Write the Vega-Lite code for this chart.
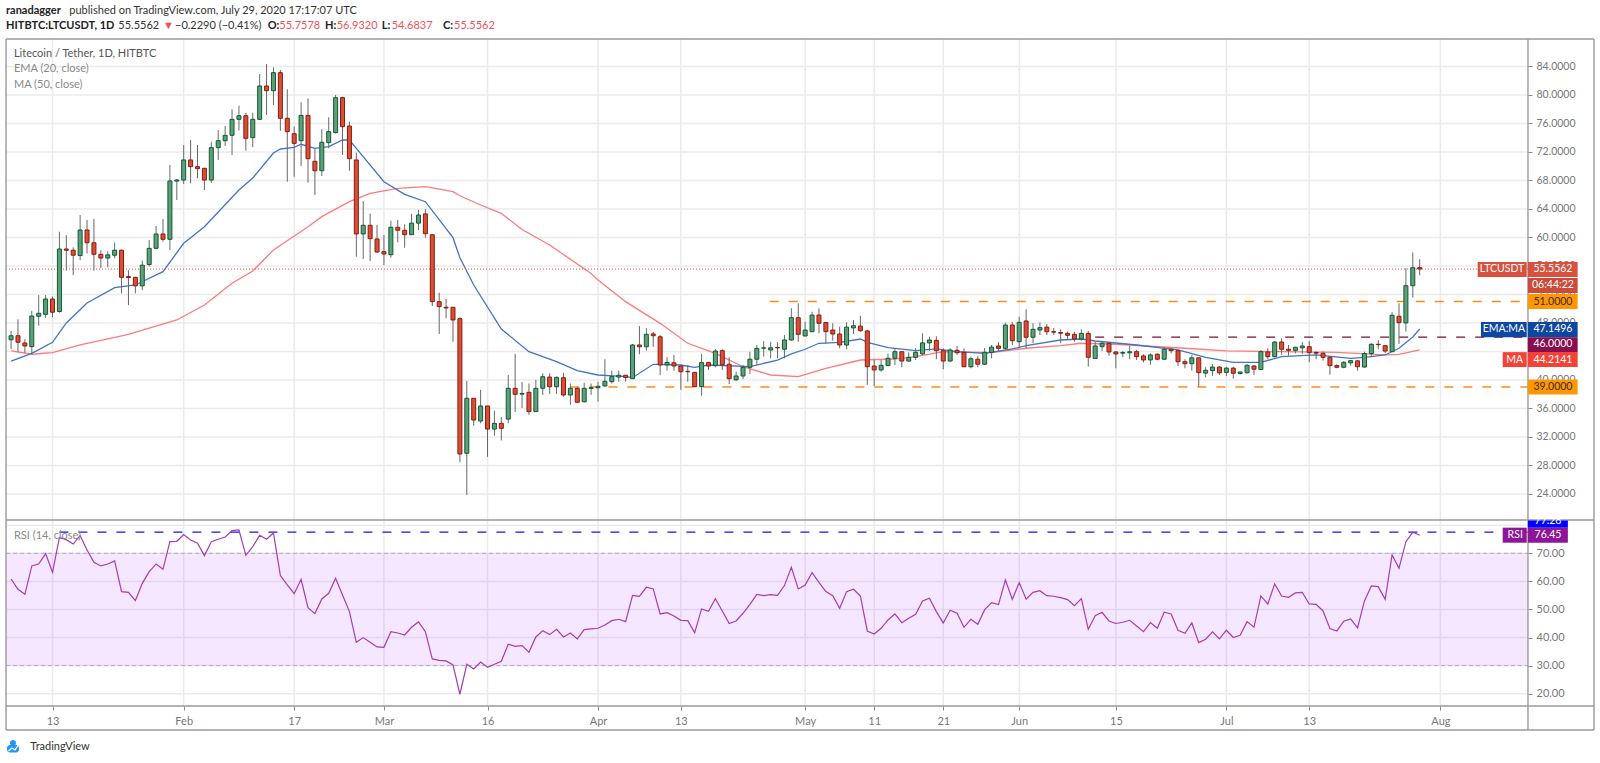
{
"$schema":"https://vega.github.io/schema/vega-lite/v6.json",
"autosize":{"type":"fit","contains":"padding"},
"padding":0,
"width":1600,
"height":763,
"background":"#ffffff",
"config":{"font":"Lato","view":{"stroke":null},"axis":{"grid":false,"domain":false}},
"datasets":{
"bars":[
{"date":"2020-01-07","open":45.64,"high":46.86,"low":44.34,"close":46.2,"rsi":60.86},
{"date":"2020-01-08","open":46.2,"high":48.5,"low":43.96,"close":45.28,"rsi":57.18},
{"date":"2020-01-09","open":45.18,"high":45.7,"low":43.8,"close":44.76,"rsi":55.4},
{"date":"2020-01-10","open":44.66,"high":49.7,"low":43.65,"close":48.96,"rsi":65.49},
{"date":"2020-01-11","open":48.93,"high":51.9,"low":47.6,"close":49.35,"rsi":66.2},
{"date":"2020-01-12","open":49.2,"high":51.9,"low":48.7,"close":51.35,"rsi":69.88},
{"date":"2020-01-13","open":51.35,"high":51.7,"low":48.8,"close":49.5,"rsi":63.23},
{"date":"2020-01-14","open":49.6,"high":60.8,"low":49.43,"close":58.37,"rsi":75.58},
{"date":"2020-01-15","open":58.37,"high":60.3,"low":55.33,"close":58.2,"rsi":74.87},
{"date":"2020-01-16","open":58.2,"high":58.6,"low":54.7,"close":57.5,"rsi":73.3},
{"date":"2020-01-17","open":57.45,"high":63.14,"low":56.8,"close":61.04,"rsi":76.3},
{"date":"2020-01-18","open":61.04,"high":62.45,"low":57.75,"close":59.25,"rsi":71.2},
{"date":"2020-01-19","open":59.25,"high":62.6,"low":55.33,"close":57.63,"rsi":66.8},
{"date":"2020-01-20","open":57.63,"high":58.2,"low":55.7,"close":57.1,"rsi":65.5},
{"date":"2020-01-21","open":57.1,"high":58.05,"low":55.8,"close":57.55,"rsi":66.2},
{"date":"2020-01-22","open":57.5,"high":59.3,"low":57.05,"close":58.2,"rsi":67.27},
{"date":"2020-01-23","open":58.2,"high":58.3,"low":52.15,"close":54.4,"rsi":56.35},
{"date":"2020-01-24","open":54.5,"high":55.4,"low":50.5,"close":54.35,"rsi":56.1},
{"date":"2020-01-25","open":54.4,"high":54.4,"low":52.15,"close":53.2,"rsi":53.15},
{"date":"2020-01-26","open":53.2,"high":56.75,"low":52.6,"close":56.1,"rsi":59.3},
{"date":"2020-01-27","open":56.2,"high":59.65,"low":55.9,"close":58.47,"rsi":63.47},
{"date":"2020-01-28","open":58.47,"high":61.6,"low":58.3,"close":60.48,"rsi":66.2},
{"date":"2020-01-29","open":60.48,"high":62.6,"low":59.4,"close":59.73,"rsi":64.3},
{"date":"2020-01-30","open":59.73,"high":70.16,"low":58.23,"close":67.92,"rsi":74.15},
{"date":"2020-01-31","open":67.9,"high":68.2,"low":65.25,"close":68.05,"rsi":74.27},
{"date":"2020-02-01","open":68.05,"high":72.97,"low":67.5,"close":70.87,"rsi":76.65},
{"date":"2020-02-02","open":70.87,"high":73.67,"low":67.6,"close":69.93,"rsi":74.75},
{"date":"2020-02-03","open":69.93,"high":72.97,"low":68.3,"close":69.65,"rsi":73.56},
{"date":"2020-02-04","open":69.7,"high":69.75,"low":66.65,"close":68.05,"rsi":69.17},
{"date":"2020-02-05","open":68.05,"high":73.43,"low":67.68,"close":72.6,"rsi":74.15},
{"date":"2020-02-06","open":72.6,"high":75.07,"low":70.87,"close":73.57,"rsi":74.99},
{"date":"2020-02-07","open":73.57,"high":75.63,"low":72.83,"close":74.33,"rsi":75.8},
{"date":"2020-02-08","open":74.33,"high":77.98,"low":71.57,"close":76.57,"rsi":78.07},
{"date":"2020-02-09","open":76.57,"high":78.48,"low":75,"close":77.08,"rsi":78.3},
{"date":"2020-02-10","open":77.08,"high":77.5,"low":72.17,"close":73.9,"rsi":69.29},
{"date":"2020-02-11","open":74,"high":77.5,"low":72.64,"close":76.57,"rsi":72.37},
{"date":"2020-02-12","open":76.57,"high":82.93,"low":76.48,"close":81.25,"rsi":76.4},
{"date":"2020-02-13","open":81.25,"high":84.34,"low":77.18,"close":80.59,"rsi":75},
{"date":"2020-02-14","open":80.59,"high":83.87,"low":78.58,"close":83.12,"rsi":77.24},
{"date":"2020-02-15","open":83.12,"high":83.5,"low":74.98,"close":76.72,"rsi":62.05},
{"date":"2020-02-16","open":76.72,"high":80.79,"low":67.82,"close":74.84,"rsi":58.72},
{"date":"2020-02-17","open":74.56,"high":75.54,"low":68.52,"close":73.2,"rsi":55.63},
{"date":"2020-02-18","open":73.57,"high":78.96,"low":70.02,"close":77.12,"rsi":60.74},
{"date":"2020-02-19","open":77.12,"high":79.52,"low":67.68,"close":71.05,"rsi":50.65},
{"date":"2020-02-20","open":70.68,"high":72.5,"low":65.95,"close":69.36,"rsi":48.52},
{"date":"2020-02-21","open":69.36,"high":75.17,"low":68.62,"close":73.35,"rsi":53.74},
{"date":"2020-02-22","open":73.3,"high":76.86,"low":72.5,"close":74.84,"rsi":55.76},
{"date":"2020-02-23","open":74.7,"high":80,"low":74.6,"close":79.61,"rsi":61.1},
{"date":"2020-02-24","open":79.61,"high":79.75,"low":71.57,"close":75.54,"rsi":55.16},
{"date":"2020-02-25","open":75.63,"high":76.24,"low":69.36,"close":71.05,"rsi":49.23},
{"date":"2020-02-26","open":70.87,"high":71.9,"low":57.29,"close":60.48,"rsi":38.31},
{"date":"2020-02-27","open":60.48,"high":65.1,"low":56.97,"close":61.7,"rsi":39.97},
{"date":"2020-02-28","open":61.7,"high":63.33,"low":56.67,"close":59.82,"rsi":38.3},
{"date":"2020-02-29","open":59.78,"high":61.74,"low":57.86,"close":57.95,"rsi":36.65},
{"date":"2020-03-01","open":58,"high":60.34,"low":56.1,"close":57.67,"rsi":36.53},
{"date":"2020-03-02","open":57.57,"high":62.34,"low":57.15,"close":61.42,"rsi":42.1},
{"date":"2020-03-03","open":61.42,"high":62.44,"low":59.31,"close":61,"rsi":41.63},
{"date":"2020-03-04","open":61,"high":61.84,"low":58.55,"close":60.38,"rsi":40.9},
{"date":"2020-03-05","open":60.38,"high":63.3,"low":60.35,"close":62,"rsi":43.65},
{"date":"2020-03-06","open":62,"high":63.85,"low":61.04,"close":63.14,"rsi":45.55},
{"date":"2020-03-07","open":63.3,"high":63.98,"low":59.96,"close":60.52,"rsi":42.1},
{"date":"2020-03-08","open":60.38,"high":60.38,"low":50.37,"close":50.98,"rsi":32.37},
{"date":"2020-03-09","open":50.98,"high":52.24,"low":46.44,"close":50.28,"rsi":31.9},
{"date":"2020-03-10","open":50.2,"high":51.36,"low":48.65,"close":50.1,"rsi":31.66},
{"date":"2020-03-11","open":50.2,"high":50.2,"low":45.36,"close":48.41,"rsi":30.24},
{"date":"2020-03-12","open":48.59,"high":48.79,"low":28.44,"close":29.6,"rsi":19.8},
{"date":"2020-03-13","open":29.7,"high":39.85,"low":23.85,"close":37.42,"rsi":30.48},
{"date":"2020-03-14","open":37.42,"high":37.45,"low":33.57,"close":34.37,"rsi":28.8},
{"date":"2020-03-15","open":34.23,"high":38.6,"low":33.9,"close":36.34,"rsi":31.3},
{"date":"2020-03-16","open":36.34,"high":36.34,"low":29.2,"close":33.1,"rsi":29.4},
{"date":"2020-03-17","open":33.1,"high":35.7,"low":32.17,"close":33.9,"rsi":30.5},
{"date":"2020-03-18","open":33.9,"high":34.8,"low":31.5,"close":33.2,"rsi":31.54},
{"date":"2020-03-19","open":34.5,"high":40.69,"low":33.9,"close":38.82,"rsi":37.6},
{"date":"2020-03-20","open":38.82,"high":43.64,"low":35.5,"close":37.98,"rsi":36.88},
{"date":"2020-03-21","open":38,"high":39.7,"low":36.05,"close":38.1,"rsi":37.1},
{"date":"2020-03-22","open":38.26,"high":39.5,"low":35.1,"close":35.55,"rsi":34.75},
{"date":"2020-03-23","open":35.55,"high":40,"low":35.5,"close":38.82,"rsi":40.2},
{"date":"2020-03-24","open":38.82,"high":40.93,"low":37.88,"close":40.45,"rsi":42.46},
{"date":"2020-03-25","open":40.4,"high":40.93,"low":38.03,"close":39.04,"rsi":41.04},
{"date":"2020-03-26","open":39.04,"high":40.45,"low":38.03,"close":40.36,"rsi":42.94},
{"date":"2020-03-27","open":40.3,"high":41,"low":37.65,"close":37.88,"rsi":40.2},
{"date":"2020-03-28","open":37.88,"high":39.5,"low":36.5,"close":38.82,"rsi":41.63},
{"date":"2020-03-29","open":38.82,"high":38.96,"low":36.8,"close":36.86,"rsi":39.5},
{"date":"2020-03-30","open":36.93,"high":39.6,"low":36.85,"close":38.82,"rsi":42.82},
{"date":"2020-03-31","open":38.8,"high":39.5,"low":37.9,"close":38.9,"rsi":43.06},
{"date":"2020-04-01","open":38.9,"high":39.75,"low":36.95,"close":39.1,"rsi":43.3},
{"date":"2020-04-02","open":39.15,"high":42.9,"low":39.05,"close":39.8,"rsi":44.48},
{"date":"2020-04-03","open":39.75,"high":41.3,"low":39.5,"close":40.45,"rsi":46},
{"date":"2020-04-04","open":40.4,"high":41.3,"low":39.75,"close":40.65,"rsi":46.5},
{"date":"2020-04-05","open":40.65,"high":40.7,"low":39.75,"close":40.33,"rsi":45.67},
{"date":"2020-04-06","open":40.17,"high":45.05,"low":40.15,"close":44.9,"rsi":55.04},
{"date":"2020-04-07","open":44.9,"high":47.55,"low":43.6,"close":44.65,"rsi":54.7},
{"date":"2020-04-08","open":44.65,"high":47.25,"low":44.1,"close":46.4,"rsi":57.9},
{"date":"2020-04-09","open":46.45,"high":46.75,"low":44.65,"close":46.2,"rsi":57.3},
{"date":"2020-04-10","open":46.05,"high":46.3,"low":40.7,"close":42.1,"rsi":48.4},
{"date":"2020-04-11","open":42.1,"high":43.2,"low":41.3,"close":42.45,"rsi":48.87},
{"date":"2020-04-12","open":42.4,"high":43.5,"low":41.3,"close":41.95,"rsi":47.7},
{"date":"2020-04-13","open":41.95,"high":42.1,"low":38.6,"close":41.15,"rsi":46.14},
{"date":"2020-04-14","open":41.2,"high":42.1,"low":39.75,"close":41.15,"rsi":46},
{"date":"2020-04-15","open":41.05,"high":41.1,"low":38.96,"close":39.05,"rsi":41.75},
{"date":"2020-04-16","open":39.05,"high":43.64,"low":37.78,"close":42.42,"rsi":50.18},
{"date":"2020-04-17","open":42.42,"high":42.55,"low":41.4,"close":41.95,"rsi":49.35},
{"date":"2020-04-18","open":42,"high":44.33,"low":41.77,"close":44.05,"rsi":53.86},
{"date":"2020-04-19","open":44.1,"high":44.3,"low":41.4,"close":42.1,"rsi":49.47},
{"date":"2020-04-20","open":42.2,"high":43.2,"low":39.42,"close":40.17,"rsi":44.96},
{"date":"2020-04-21","open":40,"high":41.15,"low":39.9,"close":40.55,"rsi":45.9},
{"date":"2020-04-22","open":40.55,"high":42.1,"low":40.1,"close":41.77,"rsi":48.64},
{"date":"2020-04-23","open":41.77,"high":43.95,"low":40.83,"close":42.9,"rsi":51.84},
{"date":"2020-04-24","open":42.9,"high":44.9,"low":42.1,"close":44.43,"rsi":55.4},
{"date":"2020-04-25","open":44.45,"high":45.45,"low":43.26,"close":44.5,"rsi":54.93},
{"date":"2020-04-26","open":44.2,"high":45.35,"low":43.03,"close":44.5,"rsi":55.3},
{"date":"2020-04-27","open":44.55,"high":45.3,"low":43.03,"close":44.5,"rsi":55.04},
{"date":"2020-04-28","open":44.3,"high":46.3,"low":43.03,"close":45.6,"rsi":58.5},
{"date":"2020-04-29","open":45.6,"high":50.05,"low":45.5,"close":48.73,"rsi":65},
{"date":"2020-04-30","open":48.73,"high":50.75,"low":45.36,"close":46.4,"rsi":57.3},
{"date":"2020-05-01","open":46.16,"high":48.17,"low":46.16,"close":47,"rsi":58.72},
{"date":"2020-05-02","open":46.77,"high":49.57,"low":46.77,"close":49.1,"rsi":63.1},
{"date":"2020-05-03","open":49.1,"high":50.05,"low":46.55,"close":47.95,"rsi":59.67},
{"date":"2020-05-04","open":48.05,"high":48.1,"low":45.05,"close":46.77,"rsi":56.35},
{"date":"2020-05-05","open":47,"high":47.95,"low":45.5,"close":46.44,"rsi":54.93},
{"date":"2020-05-06","open":46.44,"high":47.47,"low":44.43,"close":44.9,"rsi":50.4},
{"date":"2020-05-07","open":44.9,"high":48.1,"low":44.3,"close":47.4,"rsi":56.35},
{"date":"2020-05-08","open":47.3,"high":48.4,"low":46.44,"close":47.6,"rsi":57.18},
{"date":"2020-05-09","open":47.55,"high":49,"low":46.77,"close":46.9,"rsi":54.8},
{"date":"2020-05-10","open":46.87,"high":47,"low":39.3,"close":41.85,"rsi":42.34},
{"date":"2020-05-11","open":41.95,"high":42.8,"low":39.15,"close":41.4,"rsi":41.28},
{"date":"2020-05-12","open":41.4,"high":42.8,"low":41.15,"close":42.05,"rsi":43.3},
{"date":"2020-05-13","open":42,"high":43.7,"low":42,"close":43.03,"rsi":46.26},
{"date":"2020-05-14","open":43.03,"high":44.43,"low":42.1,"close":43.96,"rsi":48.4},
{"date":"2020-05-15","open":43.96,"high":44,"low":41.77,"close":42.65,"rsi":45.3},
{"date":"2020-05-16","open":42.65,"high":43.87,"low":42.55,"close":43.17,"rsi":46.85},
{"date":"2020-05-17","open":43.17,"high":44.43,"low":42.8,"close":43.87,"rsi":48.28},
{"date":"2020-05-18","open":43.65,"high":46.54,"low":43.5,"close":45.2,"rsi":53.03},
{"date":"2020-05-19","open":45.2,"high":46.07,"low":44.06,"close":45.6,"rsi":53.98},
{"date":"2020-05-20","open":45.55,"high":46.13,"low":42.9,"close":44.1,"rsi":49.23},
{"date":"2020-05-21","open":44.1,"high":44.43,"low":41.49,"close":42.65,"rsi":45.2},
{"date":"2020-05-22","open":42.65,"high":44.43,"low":42.55,"close":44.2,"rsi":49.7},
{"date":"2020-05-23","open":44.15,"high":44.76,"low":43.5,"close":43.82,"rsi":48.64},
{"date":"2020-05-24","open":43.87,"high":44.43,"low":41.77,"close":41.85,"rsi":43.65},
{"date":"2020-05-25","open":41.85,"high":43.26,"low":41.63,"close":42.97,"rsi":46.5},
{"date":"2020-05-26","open":42.9,"high":43.36,"low":41.77,"close":42.2,"rsi":44.72},
{"date":"2020-05-27","open":42.2,"high":44.48,"low":42.1,"close":43.87,"rsi":49.94},
{"date":"2020-05-28","open":43.87,"high":44.9,"low":43.03,"close":44.6,"rsi":52.43},
{"date":"2020-05-29","open":44.76,"high":45.3,"low":44,"close":44.43,"rsi":51.72},
{"date":"2020-05-30","open":44.43,"high":48.03,"low":44.2,"close":47.7,"rsi":60.5},
{"date":"2020-05-31","open":47.7,"high":48.1,"low":44.9,"close":45.5,"rsi":53.62},
{"date":"2020-06-01","open":45.36,"high":48.87,"low":44.43,"close":48.08,"rsi":59.55},
{"date":"2020-06-02","open":48.27,"high":49.91,"low":44.43,"close":45.98,"rsi":53.62},
{"date":"2020-06-03","open":45.98,"high":47.95,"low":45.14,"close":47.1,"rsi":56.1},
{"date":"2020-06-04","open":47,"high":48.08,"low":46.3,"close":47.33,"rsi":56.7},
{"date":"2020-06-05","open":47.4,"high":47.85,"low":46.3,"close":46.77,"rsi":54.93},
{"date":"2020-06-06","open":46.77,"high":47.3,"low":46.3,"close":46.7,"rsi":54.7},
{"date":"2020-06-07","open":46.65,"high":47.1,"low":45.14,"close":46.55,"rsi":54.2},
{"date":"2020-06-08","open":46.53,"high":46.77,"low":45.6,"close":46.26,"rsi":53.5},
{"date":"2020-06-09","open":46.4,"high":46.77,"low":45.36,"close":45.75,"rsi":51.36},
{"date":"2020-06-10","open":45.75,"high":47.1,"low":45.5,"close":46.53,"rsi":53.86},
{"date":"2020-06-11","open":46.53,"high":46.87,"low":41.85,"close":43.17,"rsi":42.94},
{"date":"2020-06-12","open":43,"high":45.36,"low":42.97,"close":44.76,"rsi":47.8},
{"date":"2020-06-13","open":44.66,"high":45.36,"low":44.06,"close":45.14,"rsi":49},
{"date":"2020-06-14","open":45.14,"high":45.22,"low":43.4,"close":43.92,"rsi":45.9},
{"date":"2020-06-15","open":43.92,"high":44.06,"low":41.63,"close":43.64,"rsi":45},
{"date":"2020-06-16","open":43.75,"high":44.06,"low":43.17,"close":43.85,"rsi":45.43},
{"date":"2020-06-17","open":43.8,"high":44.76,"low":42.9,"close":43.95,"rsi":46.14},
{"date":"2020-06-18","open":43.96,"high":44.2,"low":42.8,"close":43.26,"rsi":44.13},
{"date":"2020-06-19","open":43.36,"high":43.6,"low":42.47,"close":42.8,"rsi":42.1},
{"date":"2020-06-20","open":42.8,"high":43.73,"low":42.1,"close":43.5,"rsi":45.3},
{"date":"2020-06-21","open":43.6,"high":43.73,"low":42.8,"close":42.9,"rsi":43.3},
{"date":"2020-06-22","open":42.9,"high":44.6,"low":42.8,"close":44.3,"rsi":49},
{"date":"2020-06-23","open":44.3,"high":44.43,"low":43.73,"close":44.1,"rsi":48.4},
{"date":"2020-06-24","open":44.1,"high":44.2,"low":41.96,"close":42.55,"rsi":42.6},
{"date":"2020-06-25","open":42.55,"high":42.9,"low":41.63,"close":42.27,"rsi":41.5},
{"date":"2020-06-26","open":42.27,"high":43.5,"low":41.3,"close":43.1,"rsi":45.2},
{"date":"2020-06-27","open":43.1,"high":43.1,"low":39.05,"close":41.02,"rsi":38.2},
{"date":"2020-06-28","open":40.95,"high":41.77,"low":40.37,"close":41.35,"rsi":39.4},
{"date":"2020-06-29","open":41.3,"high":42.23,"low":40.55,"close":41.8,"rsi":42},
{"date":"2020-06-30","open":41.8,"high":41.96,"low":40.7,"close":41,"rsi":39.5},
{"date":"2020-07-01","open":41.05,"high":41.85,"low":40.55,"close":41.65,"rsi":42.6},
{"date":"2020-07-02","open":41.65,"high":41.85,"low":40.17,"close":40.93,"rsi":40},
{"date":"2020-07-03","open":40.9,"high":41.2,"low":40.75,"close":41.1,"rsi":40.8},
{"date":"2020-07-04","open":41,"high":42.2,"low":40.9,"close":42.05,"rsi":45.67},
{"date":"2020-07-05","open":41.95,"high":42.1,"low":40.7,"close":41.5,"rsi":43.65},
{"date":"2020-07-06","open":41.45,"high":44.2,"low":41.4,"close":43.96,"rsi":54.8},
{"date":"2020-07-07","open":43.92,"high":44.43,"low":42.9,"close":43.26,"rsi":51.96},
{"date":"2020-07-08","open":43.26,"high":45.45,"low":43.17,"close":45.32,"rsi":59.1},
{"date":"2020-07-09","open":45.32,"high":45.85,"low":43.5,"close":44.3,"rsi":54.8},
{"date":"2020-07-10","open":44.3,"high":44.9,"low":43.4,"close":44.15,"rsi":54.33},
{"date":"2020-07-11","open":44.15,"high":44.66,"low":43.73,"close":44.57,"rsi":55.88},
{"date":"2020-07-12","open":44.5,"high":45.3,"low":43.64,"close":44.76,"rsi":56.1},
{"date":"2020-07-13","open":44.66,"high":45.45,"low":42.47,"close":43.82,"rsi":51.96},
{"date":"2020-07-14","open":43.85,"high":44,"low":42.9,"close":43.75,"rsi":51.84},
{"date":"2020-07-15","open":43.73,"high":44,"low":42.7,"close":43.17,"rsi":49.47},
{"date":"2020-07-16","open":43.17,"high":43.26,"low":40.73,"close":42,"rsi":43.18},
{"date":"2020-07-17","open":42,"high":42.2,"low":41.63,"close":41.77,"rsi":42.34},
{"date":"2020-07-18","open":41.77,"high":42.65,"low":41.63,"close":42.47,"rsi":45.8},
{"date":"2020-07-19","open":42.4,"high":42.8,"low":42,"close":42.7,"rsi":46.62},
{"date":"2020-07-20","open":42.67,"high":42.8,"low":41.3,"close":41.85,"rsi":43.41},
{"date":"2020-07-21","open":41.8,"high":43.96,"low":41.77,"close":43.7,"rsi":53.03},
{"date":"2020-07-22","open":43.7,"high":45.14,"low":43.17,"close":45,"rsi":58.37},
{"date":"2020-07-23","open":45,"high":45.6,"low":44.3,"close":44.95,"rsi":58.13},
{"date":"2020-07-24","open":44.8,"high":44.85,"low":43.75,"close":44.05,"rsi":53.62},
{"date":"2020-07-25","open":43.96,"high":49.5,"low":43.92,"close":49.07,"rsi":69.4},
{"date":"2020-07-26","open":48.93,"high":50.75,"low":45.05,"close":48.03,"rsi":64.66},
{"date":"2020-07-27","open":48,"high":55.7,"low":46.77,"close":53.22,"rsi":74.15},
{"date":"2020-07-28","open":53.22,"high":57.9,"low":51.55,"close":55.75,"rsi":77.48},
{"date":"2020-07-29","open":55.7578,"high":56.932,"low":54.6837,"close":55.5562,"rsi":76.45}
],
"ema":[
{"date":"2020-01-07","price":42.65},{"date":"2020-01-10","price":43.73},{"date":"2020-01-13","price":45.28},{"date":"2020-01-15","price":47.99},{"date":"2020-01-18","price":50.79},{"date":"2020-01-22","price":52.94},{"date":"2020-01-25","price":53.32},{"date":"2020-01-29","price":55.19},{"date":"2020-02-01","price":59.17},{"date":"2020-02-04","price":61.5},{"date":"2020-02-09","price":66.65},{"date":"2020-02-11","price":68.34},{"date":"2020-02-14","price":71.85},{"date":"2020-02-15","price":72.41},{"date":"2020-02-17","price":72.65},{"date":"2020-02-18","price":73.07},{"date":"2020-02-20","price":72.5},{"date":"2020-02-22","price":72.73},{"date":"2020-02-24","price":73.67},{"date":"2020-02-25","price":73.67},{"date":"2020-02-26","price":72.5},{"date":"2020-03-01","price":67.82},{"date":"2020-03-04","price":66.05},{"date":"2020-03-07","price":65.01},{"date":"2020-03-11","price":59.96},{"date":"2020-03-12","price":57.15},{"date":"2020-03-14","price":53.32},{"date":"2020-03-18","price":47.14},{"date":"2020-03-22","price":43.96},{"date":"2020-03-26","price":42.55},{"date":"2020-03-29","price":41.29},{"date":"2020-04-01","price":40.69},{"date":"2020-04-05","price":40.45},{"date":"2020-04-06","price":40.31},{"date":"2020-04-09","price":42.19},{"date":"2020-04-13","price":42.09},{"date":"2020-04-15","price":41.77},{"date":"2020-04-17","price":42.09},{"date":"2020-04-23","price":41.85},{"date":"2020-04-27","price":42.79},{"date":"2020-04-29","price":43.64},{"date":"2020-05-01","price":44.3},{"date":"2020-05-03","price":45.14},{"date":"2020-05-06","price":45.28},{"date":"2020-05-09","price":45.74},{"date":"2020-05-10","price":45.28},{"date":"2020-05-13","price":44.52},{"date":"2020-05-17","price":44.1},{"date":"2020-05-20","price":44.34},{"date":"2020-05-23","price":43.96},{"date":"2020-05-27","price":43.73},{"date":"2020-05-31","price":44.34},{"date":"2020-06-02","price":44.8},{"date":"2020-06-07","price":45.6},{"date":"2020-06-10","price":45.74},{"date":"2020-06-12","price":45.46},{"date":"2020-06-18","price":44.9},{"date":"2020-06-24","price":44.2},{"date":"2020-06-28","price":43.17},{"date":"2020-07-02","price":42.47},{"date":"2020-07-06","price":42.47},{"date":"2020-07-09","price":43.26},{"date":"2020-07-14","price":43.5},{"date":"2020-07-19","price":43.03},{"date":"2020-07-21","price":43.17},{"date":"2020-07-24","price":43.5},{"date":"2020-07-26","price":44.44},{"date":"2020-07-28","price":46.02},{"date":"2020-07-29","price":47.15}
],
"ma":[
{"date":"2020-01-07","price":44.06},{"date":"2020-01-10","price":43.6},{"date":"2020-01-13","price":43.82},{"date":"2020-01-17","price":44.9},{"date":"2020-01-24","price":46.4},{"date":"2020-01-31","price":48.41},{"date":"2020-02-04","price":50.51},{"date":"2020-02-08","price":53.56},{"date":"2020-02-11","price":55.28},{"date":"2020-02-14","price":58.23},{"date":"2020-02-19","price":61.5},{"date":"2020-02-21","price":62.91},{"date":"2020-02-25","price":65.01},{"date":"2020-02-28","price":66.19},{"date":"2020-03-03","price":66.89},{"date":"2020-03-07","price":67.12},{"date":"2020-03-11","price":66.41},{"date":"2020-03-12","price":65.85},{"date":"2020-03-15","price":64.55},{"date":"2020-03-18","price":63.38},{"date":"2020-03-21","price":61.1},{"date":"2020-03-25","price":58.93},{"date":"2020-03-31","price":54.93},{"date":"2020-04-01","price":54.02},{"date":"2020-04-05","price":50.98},{"date":"2020-04-10","price":47.94},{"date":"2020-04-14","price":45.14},{"date":"2020-04-18","price":43.73},{"date":"2020-04-22","price":41.85},{"date":"2020-04-26","price":40.69},{"date":"2020-04-30","price":40.45},{"date":"2020-05-04","price":41.63},{"date":"2020-05-09","price":42.79},{"date":"2020-05-14","price":42.93},{"date":"2020-05-17","price":43.26},{"date":"2020-05-21","price":43.96},{"date":"2020-05-28","price":43.82},{"date":"2020-06-02","price":44.44},{"date":"2020-06-07","price":44.8},{"date":"2020-06-10","price":45.14},{"date":"2020-06-15","price":45},{"date":"2020-06-25","price":44.44},{"date":"2020-07-01","price":44.06},{"date":"2020-07-09","price":43.96},{"date":"2020-07-17","price":43.87},{"date":"2020-07-24","price":43.5},{"date":"2020-07-26","price":43.59},{"date":"2020-07-29","price":44.21}
],
"timeTicks":[
{"date":"2020-01-13"},{"date":"2020-02-01"},{"date":"2020-02-17"},{"date":"2020-03-01"},{"date":"2020-03-16"},{"date":"2020-04-01"},{"date":"2020-04-13"},{"date":"2020-05-01"},{"date":"2020-05-11"},{"date":"2020-05-21"},{"date":"2020-06-01"},{"date":"2020-06-15"},{"date":"2020-07-01"},{"date":"2020-07-13"},{"date":"2020-08-01"}
],
"rsiLines":[
{"kind":"grid","rsi":20},{"kind":"grid","rsi":30},{"kind":"grid","rsi":40},{"kind":"grid","rsi":50},{"kind":"grid","rsi":60},{"kind":"grid","rsi":70},{"kind":"grid","rsi":80}
],
"priceGrid":[
{"price":24},{"price":28},{"price":32},{"price":36},{"price":40},{"price":44},{"price":48},{"price":52},{"price":56},{"price":60},{"price":64},{"price":68},{"price":72},{"price":76},{"price":80},{"price":84}
],
"levels":[
{"kind":"support","price":51,"start":"2020-04-25T21:00:00Z"},
{"kind":"support","price":39,"start":"2020-03-28T00:00:00Z"},
{"kind":"pivot","price":46,"start":"2020-06-12T00:00:00Z"}
],
"frameH":[
{"price":87.85},{"price":20.34},{"price":-5.77},{"price":-9.14}
],
"frameV":[
{"date":"2020-01-06T06:30:00Z"},{"date":"2020-08-13T16:20:00Z"},{"date":"2020-08-23T05:45:00Z"}
],
"tags":[
{"tag":"last","start":"2020-08-06T09:36:00Z","end":"2020-08-13T12:00:00Z","top":56.55,"bottom":54.44,"mid":"2020-08-09T22:00:00Z","at":55.5,"label":"LTCUSDT"},
{"tag":"last","start":"2020-08-13T16:20:00Z","end":"2020-08-20T21:00:00Z","top":56.55,"bottom":54.44,"mid":"2020-08-17T07:00:00Z","at":55.5,"label":"55.5562"},
{"tag":"timer","start":"2020-08-13T16:20:00Z","end":"2020-08-20T21:00:00Z","top":54.3,"bottom":52.2,"mid":"2020-08-17T07:00:00Z","at":53.25,"label":"06:44:22"},
{"tag":"level","start":"2020-08-13T16:20:00Z","end":"2020-08-20T21:00:00Z","top":52.06,"bottom":49.95,"mid":"2020-08-17T07:00:00Z","at":51,"label":"51.0000"},
{"tag":"ema","start":"2020-08-06T21:00:00Z","end":"2020-08-13T12:00:00Z","top":48.13,"bottom":46,"mid":"2020-08-10T05:00:00Z","at":47.1,"label":"EMA:MA"},
{"tag":"ema","start":"2020-08-13T16:20:00Z","end":"2020-08-20T21:00:00Z","top":48.13,"bottom":46,"mid":"2020-08-17T07:00:00Z","at":47.1,"label":"47.1496"},
{"tag":"pivot","start":"2020-08-13T16:20:00Z","end":"2020-08-20T21:00:00Z","top":46,"bottom":43.9,"mid":"2020-08-17T07:00:00Z","at":45,"label":"46.0000"},
{"tag":"ma","start":"2020-08-10T00:30:00Z","end":"2020-08-13T12:00:00Z","top":43.9,"bottom":41.8,"mid":"2020-08-11T18:00:00Z","at":42.85,"label":"MA"},
{"tag":"ma","start":"2020-08-13T16:20:00Z","end":"2020-08-20T21:00:00Z","top":43.9,"bottom":41.8,"mid":"2020-08-17T07:00:00Z","at":42.85,"label":"44.2141"},
{"tag":"level","start":"2020-08-13T16:20:00Z","end":"2020-08-20T21:00:00Z","top":40.05,"bottom":37.95,"mid":"2020-08-17T07:00:00Z","at":39,"label":"39.0000"},
{"tag":"rsiLevel","start":"2020-08-13T16:20:00Z","end":"2020-08-19T11:00:00Z","top":20.27,"bottom":19.26,"mid":"2020-08-16T14:00:00Z","at":20.2,"label":"77.28"},
{"tag":"rsi","start":"2020-08-10T00:30:00Z","end":"2020-08-13T12:00:00Z","top":19.26,"bottom":17.15,"mid":"2020-08-11T20:00:00Z","at":18.2,"label":"RSI"},
{"tag":"rsi","start":"2020-08-13T16:20:00Z","end":"2020-08-19T11:00:00Z","top":19.26,"bottom":17.15,"mid":"2020-08-16T14:00:00Z","at":18.2,"label":"76.45"}
],
"notes":[
{"label":"ranadagger","date":"2020-01-06T06:30:00Z","price":91.78,"role":"bold"},
{"label":"published on TradingView.com, July 29, 2020 17:17:07 UTC","date":"2020-01-15T10:20:00Z","price":91.78,"role":"ink"},
{"label":"HITBTC:LTCUSDT, 1D","date":"2020-01-06T06:30:00Z","price":89.67,"role":"bold"},
{"label":"55.5562","date":"2020-01-22T12:40:00Z","price":89.67,"role":"ink"},
{"label":"▼","date":"2020-01-29T00:00:00Z","price":89.67,"role":"red"},
{"label":"−0.2290 (−0.41%)","date":"2020-01-30T17:45:00Z","price":89.67,"role":"ink"},
{"label":"O:","date":"2020-02-13T04:00:00Z","price":89.67,"role":"bold"},
{"label":"55.7578","date":"2020-02-14T20:20:00Z","price":89.67,"role":"red"},
{"label":"H:","date":"2020-02-21T11:00:00Z","price":89.67,"role":"bold"},
{"label":"56.9320","date":"2020-02-23T03:50:00Z","price":89.67,"role":"red"},
{"label":"L:","date":"2020-02-29T16:10:00Z","price":89.67,"role":"bold"},
{"label":"54.6837","date":"2020-03-02T03:00:00Z","price":89.67,"role":"red"},
{"label":"C:","date":"2020-03-09T13:15:00Z","price":89.67,"role":"bold"},
{"label":"55.5562","date":"2020-03-11T03:30:00Z","price":89.67,"role":"red"},
{"label":"Litecoin / Tether, 1D, HITBTC","date":"2020-01-07T10:00:00Z","price":85.74,"role":"title"},
{"label":"EMA (20, close)","date":"2020-01-07T10:00:00Z","price":83.59,"role":"muted"},
{"label":"MA (50, close)","date":"2020-01-07T10:00:00Z","price":81.46,"role":"muted"},
{"label":"RSI (14, close)","date":"2020-01-07T10:00:00Z","price":18.13,"role":"muted"},
{"label":"TradingView","date":"2020-01-09T19:00:00Z","price":-11.48,"role":"brand"}
],
"logoCloud":[
{"start":"2020-01-06T09:50:00Z","end":"2020-01-08T03:30:00Z","top":-11.24,"bottom":-12.29},
{"start":"2020-01-06T20:10:00Z","end":"2020-01-07T17:00:00Z","top":-10.54,"bottom":-11.4}
],
"logoLine":[
{"date":"2020-01-06T15:00:00Z","price":-12.08},
{"date":"2020-01-07T03:00:00Z","price":-11.66},
{"date":"2020-01-07T13:40:00Z","price":-11.94},
{"date":"2020-01-08T02:00:00Z","price":-11.24}
]
},
"layer":[
{"layer":[
{"data":{"name":"timeTicks"},"mark":{"type":"rule","color":"#ebebeb","strokeWidth":1.5},
"encoding":{
"x":{"field":"date","type":"temporal","scale":{"domain":[{"year":2020,"month":1,"date":5,"hours":9,"minutes":30,"utc":true},{"year":2020,"month":8,"date":24,"hours":2,"minutes":40,"utc":true}],"nice":false,"padding":0},
"axis":{"title":null,"orient":"bottom","offset":-57,"tickSize":4,"tickColor":"#888888","labelColor":"#777777","labelFontSize":11,"labelPadding":5,"labelFlush":false,"labelOverlap":false,
"values":[{"year":2020,"month":1,"date":13,"utc":true},{"year":2020,"month":2,"date":1,"utc":true},{"year":2020,"month":2,"date":17,"utc":true},{"year":2020,"month":3,"date":1,"utc":true},{"year":2020,"month":3,"date":16,"utc":true},{"year":2020,"month":4,"date":1,"utc":true},{"year":2020,"month":4,"date":13,"utc":true},{"year":2020,"month":5,"date":1,"utc":true},{"year":2020,"month":5,"date":11,"utc":true},{"year":2020,"month":5,"date":21,"utc":true},{"year":2020,"month":6,"date":1,"utc":true},{"year":2020,"month":6,"date":15,"utc":true},{"year":2020,"month":7,"date":1,"utc":true},{"year":2020,"month":7,"date":13,"utc":true},{"year":2020,"month":8,"date":1,"utc":true}],
"labelExpr":"utcFormat(datum.value,'%d')=='01'?utcFormat(datum.value,'%b'):utcFormat(datum.value,'%-d')"}},
"y":{"datum":253.16,"type":"quantitative","scale":{"domain":[-4.68,267.04],"nice":false,"zero":false},
"axis":{"title":null,"orient":"right","offset":-72,"values":[20,30,40,50,60,70],"format":".2f","tickSize":4,"tickColor":"#888888","labelColor":"#777777","labelFontSize":11,"labelPadding":4,"labelOverlap":false}},
"y2":{"datum":15.62}}},
{"data":{"name":"rsiLines"},"mark":{"type":"rule","color":"#ebebeb","strokeWidth":1.5},
"encoding":{
"x":{"datum":{"year":2020,"month":1,"date":6,"hours":6,"minutes":30,"utc":true},"type":"temporal"},
"x2":{"datum":{"year":2020,"month":8,"date":13,"hours":16,"minutes":20,"utc":true}},
"y":{"field":"rsi","type":"quantitative"}}},
{"data":{"values":[{"low":30,"high":70}]},"mark":{"type":"rect","color":"#9915ff","opacity":0.1},
"encoding":{
"x":{"datum":{"year":2020,"month":1,"date":6,"hours":6,"minutes":30,"utc":true},"type":"temporal"},
"x2":{"datum":{"year":2020,"month":8,"date":13,"hours":16,"minutes":20,"utc":true}},
"y":{"field":"low","type":"quantitative"},
"y2":{"field":"high"}}},
{"data":{"values":[{"rsi":30},{"rsi":70}]},"mark":{"type":"rule","color":"#b9a6c4","strokeWidth":1,"strokeDash":[4,3]},
"encoding":{
"x":{"datum":{"year":2020,"month":1,"date":6,"hours":6,"minutes":30,"utc":true},"type":"temporal"},
"x2":{"datum":{"year":2020,"month":8,"date":13,"hours":16,"minutes":20,"utc":true}},
"y":{"field":"rsi","type":"quantitative"}}},
{"data":{"values":[{"rsi":77.55}]},"mark":{"type":"rule","color":"#1414f0","strokeWidth":1.4,"strokeDash":[9,10]},
"encoding":{
"x":{"datum":{"year":2020,"month":1,"date":14,"hours":0,"utc":true},"type":"temporal"},
"x2":{"datum":{"year":2020,"month":8,"date":13,"hours":16,"minutes":20,"utc":true}},
"y":{"field":"rsi","type":"quantitative"}}},
{"data":{"name":"bars"},"mark":{"type":"line","color":"#a43cb8","strokeWidth":1.2},
"encoding":{
"x":{"field":"date","type":"temporal"},
"y":{"field":"rsi","type":"quantitative"}}}
]},
{"layer":[
{"data":{"name":"priceGrid"},"mark":{"type":"rule","color":"#ebebeb","strokeWidth":1.5},
"encoding":{
"x":{"datum":{"year":2020,"month":1,"date":6,"hours":6,"minutes":30,"utc":true},"type":"temporal"},
"x2":{"datum":{"year":2020,"month":8,"date":13,"hours":16,"minutes":20,"utc":true}},
"y":{"field":"price","type":"quantitative","scale":{"domain":[-13.77,93.32],"nice":false,"zero":false},
"axis":{"title":null,"orient":"right","offset":-72,"values":[24,28,32,36,40,44,48,52,56,60,64,68,72,76,80,84],"format":".4f","tickSize":4,"tickColor":"#888888","labelColor":"#777777","labelFontSize":10.5,"labelPadding":4,"labelOverlap":false}}}},
{"data":{"name":"ma"},"mark":{"type":"line","color":"#ff7b7b","strokeWidth":1.3},
"encoding":{"x":{"field":"date","type":"temporal"},"y":{"field":"price","type":"quantitative"}}},
{"data":{"name":"ema"},"mark":{"type":"line","color":"#4174c8","strokeWidth":1.3},
"encoding":{"x":{"field":"date","type":"temporal"},"y":{"field":"price","type":"quantitative"}}},
{"data":{"values":[{"price":55.5562}]},"mark":{"type":"rule","color":"#e8453c","strokeWidth":1,"strokeDash":[1,2]},
"encoding":{
"x":{"datum":{"year":2020,"month":1,"date":6,"hours":6,"minutes":30,"utc":true},"type":"temporal"},
"x2":{"datum":{"year":2020,"month":8,"date":13,"hours":16,"minutes":20,"utc":true}},
"y":{"field":"price","type":"quantitative"}}},
{"data":{"name":"levels"},"transform":[{"filter":"datum.kind=='support'"}],"mark":{"type":"rule","color":"#ff8a1e","strokeWidth":1.4,"strokeDash":[9,10]},
"encoding":{
"x":{"field":"start","type":"temporal"},
"x2":{"datum":{"year":2020,"month":8,"date":13,"hours":16,"minutes":20,"utc":true}},
"y":{"field":"price","type":"quantitative"}}},
{"data":{"name":"levels"},"transform":[{"filter":"datum.kind=='pivot'"}],"mark":{"type":"rule","color":"#7d0f33","strokeWidth":1.4,"strokeDash":[9,10]},
"encoding":{
"x":{"field":"start","type":"temporal"},
"x2":{"datum":{"year":2020,"month":8,"date":13,"hours":16,"minutes":20,"utc":true}},
"y":{"field":"price","type":"quantitative"}}},
{"data":{"name":"bars"},"mark":{"type":"rule","strokeWidth":1},
"encoding":{
"x":{"field":"date","type":"temporal"},
"y":{"field":"low","type":"quantitative"},
"y2":{"field":"high"},
"color":{"condition":{"test":"datum.close>=datum.open","value":"#5f7068"},"value":"#6b6463"}}},
{"data":{"name":"bars"},"mark":{"type":"bar","size":4,"strokeWidth":1},
"encoding":{
"x":{"field":"date","type":"temporal"},
"y":{"field":"open","type":"quantitative"},
"y2":{"field":"close"},
"color":{"condition":{"test":"datum.close>=datum.open","value":"#5f9f7d"},"value":"#d84f38"},
"stroke":{"condition":{"test":"datum.close>=datum.open","value":"#0f5a2e"},"value":"#8a1b0e"}}},
{"data":{"name":"frameH"},"mark":{"type":"rule","color":"#9a9a9a","strokeWidth":1.4},
"encoding":{
"x":{"datum":{"year":2020,"month":1,"date":6,"hours":6,"minutes":30,"utc":true},"type":"temporal"},
"x2":{"datum":{"year":2020,"month":8,"date":23,"hours":5,"minutes":45,"utc":true}},
"y":{"field":"price","type":"quantitative"}}},
{"data":{"name":"frameV"},"mark":{"type":"rule","color":"#9a9a9a","strokeWidth":1.4},
"encoding":{
"x":{"field":"date","type":"temporal"},
"y":{"datum":87.85,"type":"quantitative"},
"y2":{"datum":-9.14}}},
{"data":{"name":"tags"},"mark":{"type":"rect"},
"encoding":{
"x":{"field":"start","type":"temporal"},
"x2":{"field":"end"},
"y":{"field":"bottom","type":"quantitative"},
"y2":{"field":"top"},
"fill":{"field":"tag","type":"nominal","legend":null,"scale":{"domain":["last","timer","level","ema","pivot","ma","rsiLevel","rsi"],"range":["#d9503f","#cc4a3a","#ff9800","#0d47a1","#880e4f","#f44336","#0000ff","#8e1599"]}}}},
{"data":{"name":"tags"},"mark":{"type":"text","fontSize":10.5,"align":"center","baseline":"middle"},
"encoding":{
"x":{"field":"mid","type":"temporal"},
"y":{"field":"at","type":"quantitative"},
"text":{"field":"label"},
"color":{"condition":{"test":"datum.tag=='level'","value":"#3a2a10"},"value":"#ffffff"}}},
{"data":{"name":"notes"},"transform":[{"filter":"datum.role!='bold'"}],"mark":{"type":"text","align":"left","baseline":"middle"},
"encoding":{
"x":{"field":"date","type":"temporal"},
"y":{"field":"price","type":"quantitative"},
"text":{"field":"label"},
"size":{"field":"role","type":"ordinal","legend":null,"scale":{"domain":["ink","red","title","muted","brand"],"range":[11,11,11.2,11,12.5]}},
"color":{"field":"role","type":"nominal","legend":null,"scale":{"domain":["ink","red","title","muted","brand"],"range":["#333333","#f0525a","#555555","#8a8a8a","#333333"]}}}},
{"data":{"name":"notes"},"transform":[{"filter":"datum.role=='bold'"}],"mark":{"type":"text","fontSize":11,"fontWeight":"bold","align":"left","baseline":"middle","color":"#222222"},
"encoding":{
"x":{"field":"date","type":"temporal"},
"y":{"field":"price","type":"quantitative"},
"text":{"field":"label"}}},
{"data":{"name":"logoCloud"},"mark":{"type":"rect","cornerRadius":3,"color":"#2196f3"},
"encoding":{"x":{"field":"start","type":"temporal"},"x2":{"field":"end"},"y":{"field":"bottom","type":"quantitative"},"y2":{"field":"top"}}},
{"data":{"name":"logoLine"},"mark":{"type":"line","color":"#ffffff","strokeWidth":1.3},
"encoding":{"x":{"field":"date","type":"temporal"},"y":{"field":"price","type":"quantitative"}}}
]}
],
"resolve":{"scale":{"y":"independent"},"axis":{"y":"independent"}}
}
